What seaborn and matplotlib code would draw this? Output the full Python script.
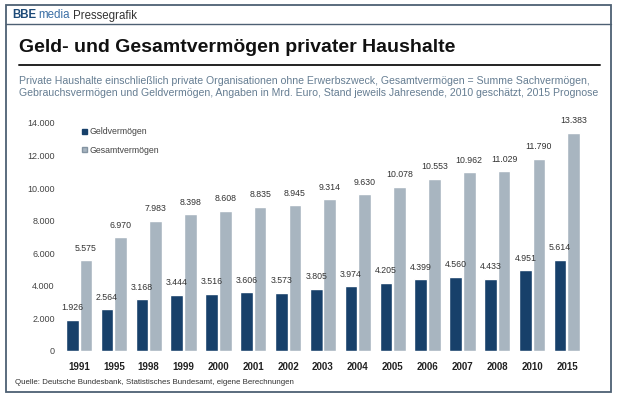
"""
Geld- und Gesamtvermögen privater Haushalte (BBE media Pressegrafik)
"""

import matplotlib.pyplot as plt
from matplotlib.patches import Rectangle
from matplotlib.lines import Line2D
import pandas as pd
import seaborn as sns

# Daten (Mrd. Euro)
jahre = ["1991", "1995", "1998", "1999", "2000", "2001", "2002", "2003",
         "2004", "2005", "2006", "2007", "2008", "2010", "2015"]
geldvermoegen = [1926, 2564, 3168, 3444, 3516, 3606, 3573, 3805,
                 3974, 4205, 4399, 4560, 4433, 4951, 5614]
gesamtvermoegen = [5575, 6970, 7983, 8398, 8608, 8835, 8945, 9314,
                   9630, 10078, 10553, 10962, 11029, 11790, 13383]
serien = ["Geldvermögen", "Gesamtvermögen"]
y_ticks = [0, 2000, 4000, 6000, 8000, 10000, 12000, 14000]

DUNKEL = "#17406a"
GRAU = "#a8b5c0"
RAHMEN = "#4d6073"
W, H = 618, 400


def punkt(v):
    return f"{v:,}".replace(",", ".")


df = pd.DataFrame({
    "Jahr": jahre * 2,
    "Wert": geldvermoegen + gesamtvermoegen,
    "Art": [serien[0]] * len(jahre) + [serien[1]] * len(jahre),
})

sns.set_theme(style="white")
plt.rcParams["font.family"] = ["Liberation Sans Narrow", "Liberation Sans", "DejaVu Sans"]

fig = plt.figure(figsize=(W / 100, H / 100), dpi=100)
fig.patch.set_facecolor("white")

# Achse in Pixelkoordinaten platzieren
px_l, px_r, px_top, px_bot = 61.6, 584.4, 123, 351
ax = fig.add_axes([px_l / W, 1 - px_bot / H, (px_r - px_l) / W, (px_bot - px_top) / H])

sns.barplot(data=df, x="Jahr", y="Wert", hue="Art", palette=[DUNKEL, GRAU],
            width=0.78, gap=0.07, ax=ax, saturation=1)

ax.set_xlim(-0.5, len(jahre) - 0.5)
ax.set_ylim(0, 14000)
ax.set_yticks(y_ticks)
ax.set_yticklabels([punkt(t) for t in y_ticks], fontsize=6.5, color="#444444")
ax.set_xticks(range(len(jahre)))
ax.set_xticklabels(jahre, fontsize=7, fontweight="bold", color="#222222")
ax.tick_params(axis="x", length=0, pad=8)
ax.tick_params(axis="y", length=0, pad=5)
ax.set_xlabel("")
ax.set_ylabel("")
for s in ax.spines.values():
    s.set_visible(False)
ax.set_facecolor("none")

# Wertbeschriftungen
for cont, werte in zip(ax.containers, [geldvermoegen, gesamtvermoegen]):
    ax.bar_label(cont, labels=[punkt(v) for v in werte], padding=5.5,
                 fontsize=6.3, color="#333333")

# Legende
handles = [Rectangle((0, 0), 1, 1, facecolor=DUNKEL, edgecolor=DUNKEL),
           Rectangle((0, 0), 1, 1, facecolor=GRAU, edgecolor="#8494a2")]
ax.legend(handles, serien, loc="upper left", bbox_to_anchor=(0.03, 1.0),
          frameon=False, fontsize=6.3, handlelength=0.6, handleheight=0.6,
          handletextpad=0.25, labelspacing=1.05, borderpad=0,
          labelcolor="#444444")

# Rahmen, Kopfzeile und Titelregel
fig.patches.append(Rectangle((6 / W, 1 - 392 / H), (611 - 6) / W, (392 - 5) / H,
                             transform=fig.transFigure, fill=False,
                             edgecolor=RAHMEN, linewidth=1.3))
fig.lines.append(Line2D([6 / W, 611 / W], [1 - 24 / H, 1 - 24 / H],
                        transform=fig.transFigure, color=RAHMEN, linewidth=1.0))
fig.lines.append(Line2D([19 / W, 600 / W], [1 - 64.5 / H, 1 - 64.5 / H],
                        transform=fig.transFigure, color="#222222", linewidth=1.4))

# Texte (Kopfzeile auf gemeinsamer Grundlinie)
kopf_y = 1 - 18.5 / H
t1 = fig.text(12 / W, kopf_y, "BBE", fontsize=8.3, fontweight="bold",
              color="#1d4a78", va="baseline")
fig.canvas.draw()
bb = t1.get_window_extent()
t2 = fig.text((bb.x1 + 2.5) / W, kopf_y, "media", fontsize=8.3, color="#3a6ea5",
              va="baseline")
fig.canvas.draw()
bb = t2.get_window_extent()
fig.text((bb.x1 + 2.5) / W, kopf_y, "Pressegrafik", fontsize=8.3, color="#333333",
         va="baseline")

fig.text(19 / W, 1 - 47 / H, "Geld- und Gesamtvermögen privater Haushalte",
         fontsize=14, fontweight="bold", color="#111111", va="center")

fig.text(19 / W, 1 - 87 / H,
         "Private Haushalte einschließlich private Organisationen ohne Erwerbszweck, "
         "Gesamtvermögen = Summe Sachvermögen,\n"
         "Gebrauchsvermögen und Geldvermögen, Angaben in Mrd. Euro, Stand jeweils "
         "Jahresende, 2010 geschätzt, 2015 Prognose",
         fontsize=7.6, color="#657d92", va="center", linespacing=1.35)

fig.text(15 / W, 1 - 382 / H,
         "Quelle: Deutsche Bundesbank, Statistisches Bundesamt, eigene Berechnungen",
         fontsize=5.7, color="#333333", va="center")

fig.savefig("out.png", dpi=100)
